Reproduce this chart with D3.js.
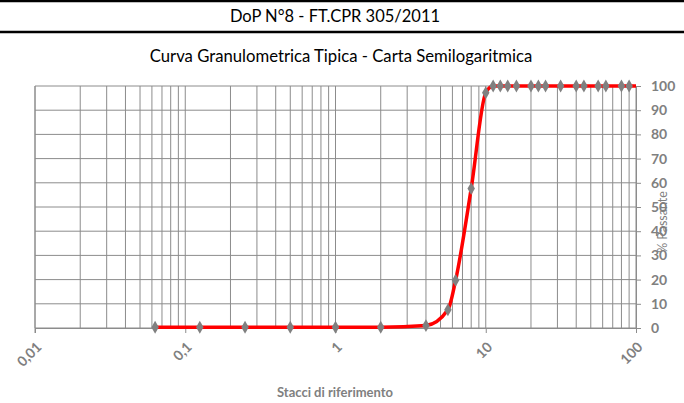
<!DOCTYPE html>
<html>
<head>
<meta charset="utf-8">
<script src="https://cdn.jsdelivr.net/npm/d3@7"></script>
<style>
  body { margin: 0; background: #fff; }
  svg { display: block; font-family: Lato, "Open Sans", sans-serif; }
</style>
</head>
<body>
<div id="chart"></div>
<script>
// data
var headerText = 'DoP N°8 - FT.CPR 305/2011';
var chartTitle = 'Curva Granulometrica Tipica - Carta Semilogaritmica';
var xTitle = 'Stacci di riferimento';
var yTitle = '% Passante';

var sieves = [0.063, 0.125, 0.25, 0.5, 1, 2, 4, 5.6, 6.3, 8, 10, 11.2, 12.5, 14, 16, 20, 22.4, 25, 31.5, 40, 45, 56, 63, 80, 90, 100];
var passing = [0.3, 0.3, 0.3, 0.3, 0.3, 0.3, 1, 7.5, 19.7, 57.6, 97.2, 100, 100, 100, 100, 100, 100, 100, 100, 100, 100, 100, 100, 100, 100, 100];

var xTicks = [0.01, 0.1, 1, 10, 100];
var xTickLabels = ['0,01', '0,1', '1', '10', '100'];
var yTicks = [0, 10, 20, 30, 40, 50, 60, 70, 80, 90, 100];

//sizes
var outerW = 684,
    outerH = 403;

var margin = { left: 35, right: 48, top: 86, bottom: 75 };
var w = outerW - margin.left - margin.right,
    h = outerH - margin.top - margin.bottom;

var textGrey = '#808080',
    gridGrey = '#8c8c8c';

var svg = d3.select('#chart').append('svg')
    .attr('width', outerW)
    .attr('height', outerH);

// header band
svg.append('line')
    .attr('x1', 0).attr('x2', outerW)
    .attr('y1', 1).attr('y2', 1)
    .attr('stroke', '#000').attr('stroke-width', 2.5);

svg.append('line')
    .attr('x1', 0).attr('x2', outerW)
    .attr('y1', 32).attr('y2', 32)
    .attr('stroke', '#000').attr('stroke-width', 2.5);

svg.append('text')
    .attr('x', 335).attr('y', 22)
    .attr('text-anchor', 'middle')
    .attr('font-size', 16.5)
    .attr('fill', '#000')
    .text(headerText);

svg.append('text')
    .attr('x', 341).attr('y', 62)
    .attr('text-anchor', 'middle')
    .attr('font-size', 16.7)
    .attr('fill', '#000')
    .text(chartTitle);

//scales
var xScale = d3.scaleLog().domain([0.01, 100]).range([0, w]);
var yScale = d3.scaleLinear().domain([0, 100]).range([h, 0]);

var g = svg.append('g')
    .attr('transform', 'translate(' + margin.left + ', ' + margin.top + ')');

// vertical grid (1..9 per decade)
var minorVals = [];
for (var e = -2; e < 2; e++) {
    for (var m = 1; m < 10; m++) {
        minorVals.push(m * Math.pow(10, e));
    }
}
minorVals.push(100);

g.selectAll('.vgrid')
    .data(minorVals)
    .enter()
    .append('line')
    .attr('class', 'vgrid')
    .attr('x1', function(d) { return xScale(d); })
    .attr('x2', function(d) { return xScale(d); })
    .attr('y1', 0)
    .attr('y2', h)
    .attr('stroke', gridGrey)
    .attr('stroke-width', 1);

// horizontal grid
g.selectAll('.hgrid')
    .data(yTicks)
    .enter()
    .append('line')
    .attr('class', 'hgrid')
    .attr('x1', 0)
    .attr('x2', w)
    .attr('y1', function(d) { return yScale(d); })
    .attr('y2', function(d) { return yScale(d); })
    .attr('stroke', gridGrey)
    .attr('stroke-width', 1);

// x axis
var xAxis = d3.axisBottom(xScale)
    .tickValues(xTicks)
    .tickSize(5)
    .tickSizeOuter(0)
    .tickFormat(function(d, i) { return xTickLabels[i]; });

var xAxisG = g.append('g')
    .attr('transform', 'translate(0,' + h + ')')
    .call(xAxis);

xAxisG.select('.domain').attr('stroke', gridGrey);
xAxisG.selectAll('.tick line').attr('stroke', gridGrey);
xAxisG.selectAll('.tick text')
    .attr('fill', textGrey)
    .attr('font-size', 14)
    .attr('font-weight', 'bold')
    .attr('font-family', 'Lato, sans-serif')
    .attr('text-anchor', 'end')
    .attr('dy', null)
    .attr('y', 0)
    .attr('transform', 'translate(7,20) rotate(-45)');

// y axis on the right
var yAxis = d3.axisRight(yScale)
    .tickValues(yTicks)
    .tickSize(5)
    .tickSizeOuter(0);

var yAxisG = g.append('g')
    .attr('transform', 'translate(' + w + ',0)')
    .call(yAxis);

yAxisG.select('.domain').attr('stroke', gridGrey);
yAxisG.selectAll('.tick line').attr('stroke', gridGrey);
yAxisG.selectAll('.tick text')
    .attr('fill', textGrey)
    .attr('font-size', 14)
    .attr('font-weight', 'bold')
    .attr('font-family', 'Lato, sans-serif')
    .attr('x', 15);

// left border
g.append('line')
    .attr('x1', 0).attr('x2', 0)
    .attr('y1', 0).attr('y2', h + 5)
    .attr('stroke', gridGrey);

// curve
var points = sieves.map(function(d, i) {
    return { x: d, y: passing[i] };
});

var line = d3.line()
    .x(function(d) { return xScale(d.x); })
    .y(function(d) { return yScale(d.y); })
    .curve(d3.curveMonotoneX);

g.append('path')
    .datum(points)
    .attr('d', line)
    .attr('fill', 'none')
    .attr('stroke', '#ff0000')
    .attr('stroke-width', 3.5)
    .attr('stroke-linejoin', 'round');

g.selectAll('.dot')
    .data(points.filter(function(d) { return d.x < 100; }))
    .enter()
    .append('path')
    .attr('class', 'dot')
    .attr('d', d3.symbol().type(d3.symbolDiamond).size(48))
    .attr('transform', function(d) {
        return 'translate(' + xScale(d.x) + ',' + yScale(d.y) + ')';
    })
    .attr('fill', textGrey);

// axis titles
svg.append('text')
    .attr('x', 335).attr('y', 397)
    .attr('text-anchor', 'middle')
    .attr('font-size', 13)
    .attr('font-weight', 'bold')
    .attr('fill', textGrey)
    .text(xTitle);

svg.append('text')
    .attr('transform', 'translate(667,222) rotate(-90)')
    .attr('text-anchor', 'middle')
    .attr('font-size', 12.5)
    .attr('fill', textGrey)
    .text(yTitle);
</script>
</body>
</html>
